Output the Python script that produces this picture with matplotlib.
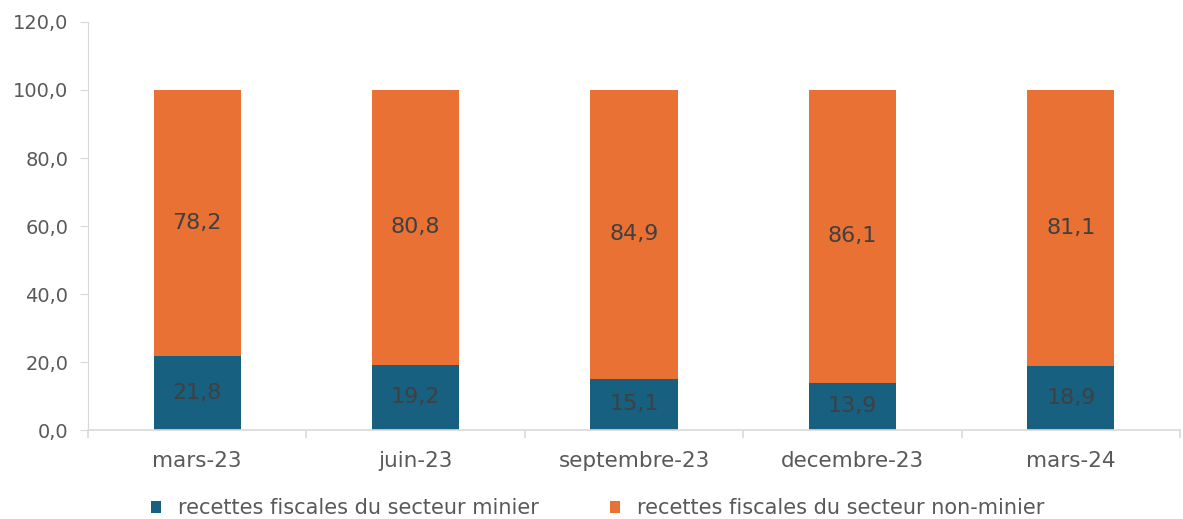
import matplotlib
matplotlib.use("Agg")
import matplotlib.pyplot as plt
from matplotlib.ticker import FuncFormatter

categories = ["mars-23", "juin-23", "septembre-23", "decembre-23", "mars-24"]
minier = [21.8, 19.2, 15.1, 13.9, 18.9]
non_minier = [78.2, 80.8, 84.9, 86.1, 81.1]
series_names = ["recettes fiscales du secteur minier", "recettes fiscales du secteur non-minier"]

c_blue = "#17607F"
c_orange = "#E87133"
c_text = "#595959"
c_lbl = "#404040"

plt.rcParams['font.family'] = ['DejaVu Sans']
fig = plt.figure(figsize=(11.83, 5.19), dpi=100)
ax = fig.add_axes([88/1183, 1-430/519, (1180-88)/1183, (430-22)/519])

x = list(range(len(categories)))
b1 = ax.bar(x, minier, width=0.4, color=c_blue, label=series_names[0])
b2 = ax.bar(x, non_minier, width=0.4, bottom=minier, color=c_orange, label=series_names[1])

fmt = lambda v: f"{v:.1f}".replace(".", ",")
for xi, m, n in zip(x, minier, non_minier):
    ax.text(xi, m/2, fmt(m), ha="center", va="center", fontsize=16, color=c_lbl)
    ax.text(xi, m + n/2, fmt(n), ha="center", va="center", fontsize=16, color=c_lbl)

ax.set_xlim(-0.5, len(categories)-0.5)
ax.set_ylim(0, 120)
ax.set_yticks(range(0, 121, 20))
ax.yaxis.set_major_formatter(FuncFormatter(lambda v, p: fmt(v)))
ax.set_xticks(x)
ax.set_xticklabels(categories)
ax.set_xticks([i - 0.5 for i in range(len(categories)+1)], minor=True)
ax.tick_params(axis="x", which="major", length=0, pad=15, labelsize=15.5, labelcolor=c_text)
ax.tick_params(axis="x", which="minor", length=6, color="#D9D9D9", width=1.2)
ax.tick_params(axis="y", length=6, color="#D9D9D9", labelsize=14, labelcolor=c_text, pad=8)
for s in ["top", "right"]:
    ax.spines[s].set_visible(False)
ax.spines["left"].set_color("#D9D9D9")
ax.spines["bottom"].set_color("#D9D9D9")
ax.spines["bottom"].set_linewidth(1.2)

leg = fig.legend(handles=[b1, b2], loc="center", bbox_to_anchor=(0.505, 1-508/519), ncol=2,
                 frameon=False, fontsize=15, handlelength=0.5, handleheight=0.5,
                 columnspacing=3.4, handletextpad=0.8)
for t in leg.get_texts():
    t.set_color(c_text)

fig.savefig("out.png", dpi=100)
